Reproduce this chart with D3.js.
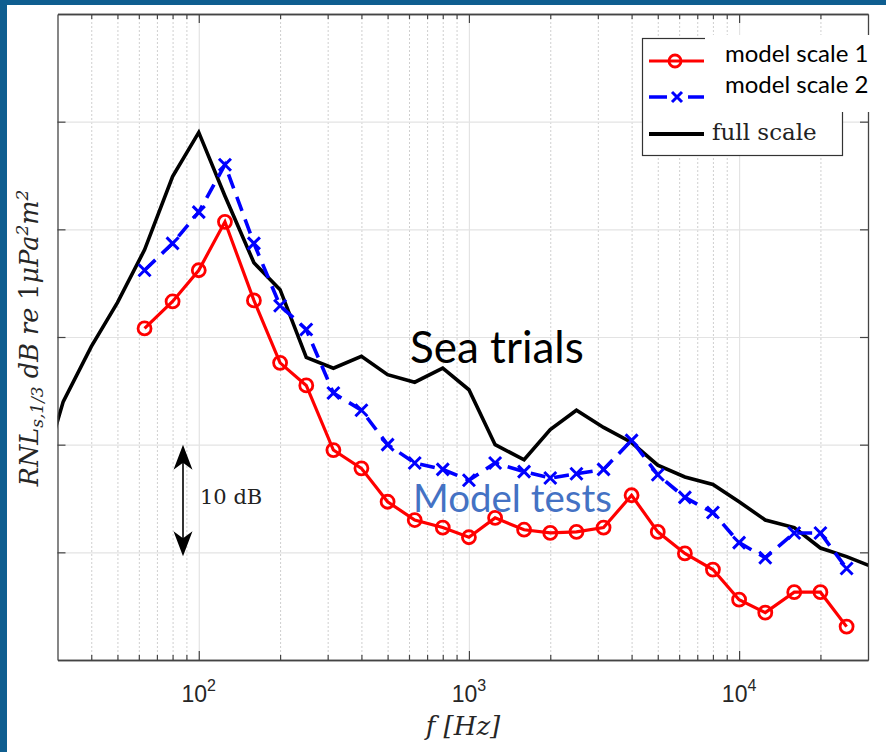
<!DOCTYPE html>
<html><head><meta charset="utf-8">
<script src="https://cdn.jsdelivr.net/npm/d3@7"></script>
<style>html,body{margin:0;padding:0;background:#fff;} svg{display:block;}</style>
</head><body>
<svg id="chart" width="886" height="752"></svg>
<script>
// ---- data ----
const fullFreqs = [25,31.5,40,50,63,80,100,125,160,200,250,315,400,500,630,800,1000,1250,1600,2000,2500,3150,4000,5000,6300,8000,10000,12500,16000,20000,25000,31500];
const fullScale = [15.4,24.0,29.1,33.2,38.1,44.9,49.0,43.1,36.9,34.4,28.1,27.1,28.2,26.5,25.8,27.1,25.1,20.0,18.6,21.4,23.2,21.6,20.2,18.1,17.0,16.3,14.7,13.0,12.3,10.4,9.6,8.6];
const modelFreqs = [63,80,100,125,160,200,250,315,400,500,630,800,1000,1250,1600,2000,2500,3150,4000,5000,6300,8000,10000,12500,16000,20000,25000];
const modelScale1 = [30.8,33.3,36.2,40.7,33.4,27.6,25.5,19.5,17.8,14.7,13.0,12.3,11.4,13.2,12.1,11.8,11.9,12.3,15.3,11.9,9.9,8.4,5.6,4.4,6.3,6.3,3.1];
const modelScale2 = [36.2,38.7,41.6,46.0,38.7,32.9,30.7,24.8,23.2,20.0,18.3,17.7,16.7,18.3,17.5,16.9,17.3,17.7,20.4,17.2,15.1,13.7,10.9,9.5,11.8,11.8,8.5];
const xTickValues = [100,1000,10000];
const xTickExponents = ["2","3","4"];
const yTickValues = [10,20,30,40,50];
const seriesNames = ["model scale 1","model scale 2","full scale"];
const arrowSpan = [10,20];

// ---- layout ----
const W=886,H=752;
const m = {left:57.5, right:868, top:14, bottom:660};
const svg = d3.select("#chart");
svg.append("rect").attr("width",W).attr("height",H).attr("fill","#fff");
svg.append("rect").attr("x",0).attr("y",0).attr("width",7).attr("height",H).attr("fill","#0f5e90");
svg.append("rect").attr("x",0).attr("y",0).attr("width",W).attr("height",5).attr("fill","#0f5e90");

const x = d3.scaleLog().domain([30,30000]).range([m.left,m.right]);
const y = d3.scaleLinear().domain([0,60]).range([m.bottom,m.top]);
const pw = m.right-m.left, ph = m.bottom-m.top;

const minor = [];
for (let e=1;e<=4;e++) for (let k=2;k<=9;k++){const v=k*Math.pow(10,e); if(v>30&&v<30000) minor.push(v);}

// grid
const gridMinor = svg.append("g").attr("transform",`translate(0,${m.bottom})`)
  .call(d3.axisBottom(x).tickValues(minor).tickSize(-ph).tickFormat(""));
gridMinor.select(".domain").remove();
gridMinor.selectAll("line").attr("stroke","#cfcfcf").attr("stroke-dasharray","2,2").attr("stroke-width",1);
const gridMajor = svg.append("g").attr("transform",`translate(0,${m.bottom})`)
  .call(d3.axisBottom(x).tickValues(xTickValues).tickSize(-ph).tickFormat(""));
gridMajor.select(".domain").remove();
gridMajor.selectAll("line").attr("stroke","#e3e3e3").attr("stroke-width",1.2);
const gridY = svg.append("g").attr("transform",`translate(${m.left},0)`)
  .call(d3.axisLeft(y).tickValues(yTickValues).tickSize(-pw).tickFormat(""));
gridY.select(".domain").remove();
gridY.selectAll("line").attr("stroke","#e3e3e3").attr("stroke-width",1.2);

// clip
svg.append("clipPath").attr("id","clip").append("rect")
  .attr("x",m.left).attr("y",m.top).attr("width",pw).attr("height",ph);

const line = d3.line().x(d=>x(d[0])).y(d=>y(d[1]));
const plot = svg.append("g").attr("clip-path","url(#clip)");

const fullData = fullFreqs.map((f,i)=>[f,fullScale[i]]);
const m1Data = modelFreqs.map((f,i)=>[f,modelScale1[i]]);
const m2Data = modelFreqs.map((f,i)=>[f,modelScale2[i]]);

plot.append("path").datum(fullData).attr("d",line).attr("fill","none")
  .attr("stroke","#000").attr("stroke-width",3.6).attr("stroke-linejoin","miter");

plot.append("path").datum(m2Data).attr("d",line).attr("fill","none")
  .attr("stroke","#0000ff").attr("stroke-width",3.6).attr("stroke-dasharray","15,9");
plot.selectAll(".xm").data(m2Data).join("path")
  .attr("d",d=>{const cx=x(d[0]),cy=y(d[1]),s=6;return `M${cx-s},${cy-s}L${cx+s},${cy+s}M${cx-s},${cy+s}L${cx+s},${cy-s}`;})
  .attr("stroke","#0000ff").attr("stroke-width",3).attr("fill","none");

plot.append("path").datum(m1Data).attr("d",line).attr("fill","none")
  .attr("stroke","#ff0000").attr("stroke-width",3.2);
plot.selectAll(".cm").data(m1Data).join("circle")
  .attr("cx",d=>x(d[0])).attr("cy",d=>y(d[1])).attr("r",6.5)
  .attr("fill","none").attr("stroke","#ff0000").attr("stroke-width",2.8);

// axes (box with inward ticks)
const axCol = "#444";
function styleAxis(g){ g.selectAll("path.domain").attr("stroke",axCol).attr("stroke-width",1.3); g.selectAll("line").attr("stroke",axCol).attr("stroke-width",1.2); g.selectAll("text").remove(); }
svg.append("g").attr("transform",`translate(${m.left},0)`).call(d3.axisLeft(y).tickValues(yTickValues).tickSize(-8).tickSizeOuter(0)).call(styleAxis);
svg.append("g").attr("transform",`translate(${m.right},0)`).call(d3.axisRight(y).tickValues(yTickValues).tickSize(-8).tickSizeOuter(0)).call(styleAxis);
svg.append("g").attr("transform",`translate(0,${m.bottom})`).call(d3.axisBottom(x).tickValues(minor).tickSize(-5).tickSizeOuter(0)).call(styleAxis);
svg.append("g").attr("transform",`translate(0,${m.bottom})`).call(d3.axisBottom(x).tickValues(xTickValues).tickSize(-9).tickSizeOuter(0)).call(styleAxis);
svg.append("g").attr("transform",`translate(0,${m.top})`).call(d3.axisTop(x).tickValues(minor).tickSize(-5).tickSizeOuter(0)).call(styleAxis);
svg.append("g").attr("transform",`translate(0,${m.top})`).call(d3.axisTop(x).tickValues(xTickValues).tickSize(-9).tickSizeOuter(0)).call(styleAxis);

// x tick labels
const tl = svg.append("g").selectAll("text").data(xTickValues).join("text")
  .attr("x",d=>x(d)).attr("y",702).attr("text-anchor","middle")
  .attr("font-family","Liberation Sans, Arial, sans-serif").attr("font-size",23).attr("fill","#262626");
tl.append("tspan").text("10");
tl.append("tspan").attr("font-size",16).attr("dy",-11).text((d,i)=>xTickExponents[i]);

// axis labels
svg.append("text").attr("x",463).attr("y",735).attr("text-anchor","middle")
  .attr("font-family","DejaVu Serif").attr("font-style","italic").attr("font-size",26).attr("fill","#262626")
  .text("f [Hz]");

const yl = svg.append("text").attr("transform","translate(38,338) rotate(-90)").attr("text-anchor","middle")
  .attr("font-family","DejaVu Serif").attr("font-style","italic").attr("font-size",25.5).attr("fill","#262626");
yl.append("tspan").text("RNL");
yl.append("tspan").attr("font-size",17).attr("dy",5).text("s,1/3");
yl.append("tspan").attr("dy",-5).text(" dB re ");
yl.append("tspan").attr("font-style","normal").text("1");
yl.append("tspan").text("μPa");
yl.append("tspan").attr("font-size",17).attr("dy",-10).text("2");
yl.append("tspan").attr("dy",10).text("m");
yl.append("tspan").attr("font-size",17).attr("dy",-10).text("2");

// 10 dB arrow
const ax = 183, yTop = y(arrowSpan[1]), yBot = y(arrowSpan[0])+4;
svg.append("line").attr("x1",ax).attr("x2",ax).attr("y1",yTop+10).attr("y2",yBot-10).attr("stroke","#000").attr("stroke-width",1.6);
svg.append("path").attr("d",`M${ax},${yTop}L${ax+9.5},${yTop+25}L${ax},${yTop+18}L${ax-9.5},${yTop+25}Z`).attr("fill","#000");
svg.append("path").attr("d",`M${ax},${yBot}L${ax+9.5},${yBot-25}L${ax},${yBot-18}L${ax-9.5},${yBot-25}Z`).attr("fill","#000");
svg.append("text").attr("x",200).attr("y",504).attr("font-family","DejaVu Serif").attr("font-size",21).attr("fill","#222").text("10 dB");

// annotations
svg.append("text").attr("x",410).attr("y",363).attr("font-family","Lato, sans-serif").attr("font-size",44).attr("fill","#000").text("Sea trials");
svg.append("text").attr("x",413).attr("y",512).attr("font-family","Lato, sans-serif").attr("font-size",38.5).attr("fill","#4472c4").text("Model tests");

// legend
const lg = svg.append("g");
lg.append("rect").attr("x",642.5).attr("y",38.5).attr("width",200).attr("height",117).attr("fill","#fff").attr("stroke","#333").attr("stroke-width",1.2);
lg.append("rect").attr("x",705).attr("y",35).attr("width",172).attr("height",77).attr("fill","#fff");
const ly = [61,97,134];
lg.append("line").attr("x1",649).attr("x2",704).attr("y1",ly[0]).attr("y2",ly[0]).attr("stroke","#ff0000").attr("stroke-width",3.2);
lg.append("circle").attr("cx",675).attr("cy",ly[0]).attr("r",6).attr("fill","none").attr("stroke","#ff0000").attr("stroke-width",2.8);
lg.append("line").attr("x1",649).attr("x2",704).attr("y1",ly[1]).attr("y2",ly[1]).attr("stroke","#0000ff").attr("stroke-width",3.6).attr("stroke-dasharray","18,21,18");
lg.append("path").attr("d",`M${677-5},${ly[1]-5}L${677+5},${ly[1]+5}M${677-5},${ly[1]+5}L${677+5},${ly[1]-5}`).attr("stroke","#0000ff").attr("stroke-width",3);
lg.append("line").attr("x1",649).attr("x2",704).attr("y1",ly[2]).attr("y2",ly[2]).attr("stroke","#000").attr("stroke-width",4);
lg.append("text").attr("x",725).attr("y",62).attr("font-family","Lato, sans-serif").attr("font-size",24).attr("fill","#000").text(seriesNames[0]);
lg.append("text").attr("x",725).attr("y",93).attr("font-family","Lato, sans-serif").attr("font-size",24).attr("fill","#000").text(seriesNames[1]);
lg.append("text").attr("x",712).attr("y",140).attr("font-family","DejaVu Serif").attr("font-size",23).attr("fill","#222").text(seriesNames[2]);
</script>
</body></html>
